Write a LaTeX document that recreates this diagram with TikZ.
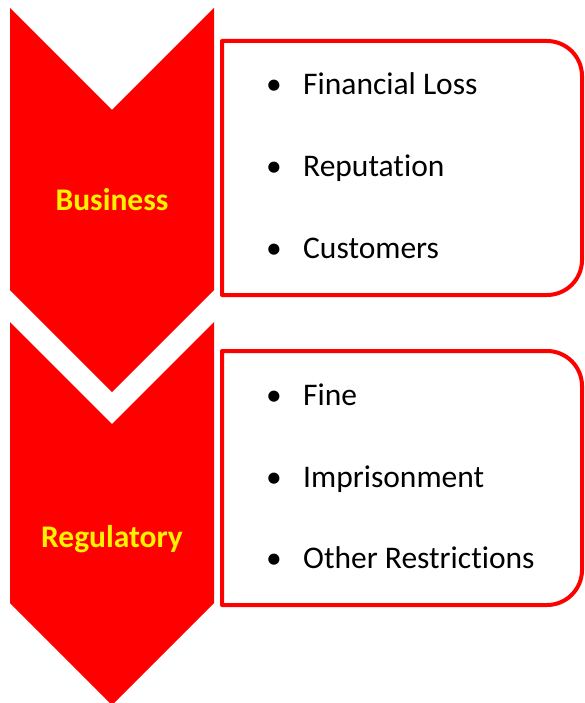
\documentclass[tikz,border=0pt]{standalone}
\usepackage{fontspec}
\setmainfont{Carlito}[Ligatures={NoCommon}]
\usetikzlibrary{positioning}

\tikzset{
    chevron/.style={fill=red, draw=none},
    listbox/.style={draw=red, line width=4pt, line join=round, fill=white},
    heading/.style={text=yellow, font=\bfseries\fontsize{31.5}{36}\selectfont, inner sep=0pt},
    item/.style={anchor=base west, font=\fontsize{31.5}{36}\selectfont, inner sep=0pt}
}

\begin{document}
\begin{tikzpicture}[x=1pt, y=-1pt]

\useasboundingbox (0,0) rectangle (584,703);

% Chevrons
\fill[chevron] (10,8) -- (112,110) -- (214,8) -- (214,290) -- (112,392) -- (10,290) -- cycle;
\fill[chevron] (10,322) -- (112,424) -- (214,322) -- (214,603) -- (112,705) -- (10,603) -- cycle;

\node[heading, anchor=base] (business) at (112,211) {Business};
\node[heading, anchor=base] (regulatory) at (112,547) {Regulatory};

% List boxes
\foreach \dy in {0,310}
    \draw[listbox] (222,41+\dy) -- (547,41+\dy) arc[start angle=-90, end angle=0, radius=35]
        -- (582,260+\dy) arc[start angle=0, end angle=90, radius=35] -- (222,295+\dy) -- cycle;

\node[item] (loss) at (266,95) {\textbullet};
\node[item] (loss text) at (303,95) {Financial Loss};
\node[item] (reputation) at (266,177) {\textbullet};
\node[item] (reputation text) at (303,177) {Reputation};
\node[item] (customers) at (266,258) {\textbullet};
\node[item] (customers text) at (303,258) {Customers};

\node[item] (fine) at (266,405) {\textbullet};
\node[item] (fine text) at (303,405) {Fine};
\node[item] (prison) at (266,487) {\textbullet};
\node[item] (prison text) at (303,487) {Imprisonment};
\node[item] (other) at (266,568) {\textbullet};
\node[item] (other text) at (303,568) {Other Restrictions};

\end{tikzpicture}
\end{document}
